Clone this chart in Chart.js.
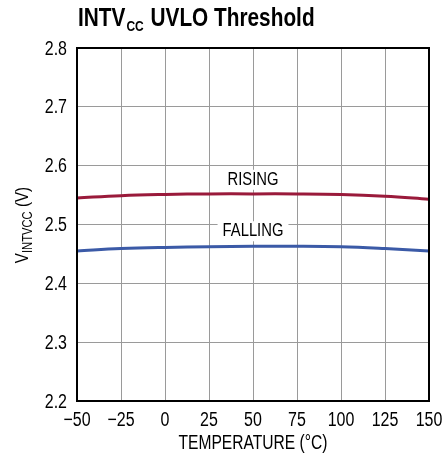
<!DOCTYPE html>
<html>
<head>
<meta charset="utf-8">
<script src="https://cdn.jsdelivr.net/npm/chart.js@4.4.1/dist/chart.umd.min.js"></script>
<style>
  html, body { margin: 0; padding: 0; background: #fff; }
  #wrap { width: 444px; height: 466px; position: relative; }
</style>
</head>
<body>
<div id="wrap"><canvas id="chart"></canvas></div>
<script>
/* ---------- DATA ---------- */
const temps = [-50, -25, 0, 25, 50, 75, 100, 125, 150];
const rising = [2.545, 2.549, 2.551, 2.552, 2.552, 2.552, 2.551, 2.548, 2.543];
const falling = [2.455, 2.459, 2.461, 2.462, 2.463, 2.463, 2.462, 2.459, 2.455];
const xTicks = [-50, -25, 0, 25, 50, 75, 100, 125, 150];
const yTicks = [2.2, 2.3, 2.4, 2.5, 2.6, 2.7, 2.8];

const FONT = "'Liberation Sans', Arial, sans-serif";
const SQ = 0.8; // horizontal squeeze to mimic a condensed face

/* ---------- HELPERS ---------- */
// draw condensed text; align = left | center | right
function txt(ctx, s, x, y, font, align, base) {
  ctx.save();
  ctx.font = font;
  ctx.textBaseline = base || "middle";
  ctx.textAlign = "left";
  const w = ctx.measureText(s).width * SQ;
  let x0 = x;
  if (align === "center") x0 = x - w / 2;
  if (align === "right") x0 = x - w;
  ctx.translate(x0, y);
  ctx.scale(SQ, 1);
  ctx.fillText(s, 0, 0);
  ctx.restore();
  return w;
}
function tw(ctx, s, font) {
  ctx.save(); ctx.font = font;
  const w = ctx.measureText(s).width * SQ;
  ctx.restore();
  return w;
}

/* ---------- TEXT / FRAME PLUGIN ---------- */
const decor = {
  id: "decor",
  afterDraw(chart) {
    const ctx = chart.ctx;
    const a = chart.chartArea;
    const xs = chart.scales.x, ys = chart.scales.y;
    ctx.save();
    ctx.fillStyle = "#000";

    // curve labels on white patches
    const lf = "18.5px " + FONT;
    const cx = xs.getPixelForValue(50);
    [["RISING", 2.576], ["FALLING", 2.4885]].forEach(([s, v]) => {
      const y = ys.getPixelForValue(v);
      const w = tw(ctx, s, lf);
      ctx.fillStyle = "#fff";
      ctx.fillRect(cx - w / 2 - 5, y - 10, w + 10, 20);
      ctx.fillStyle = "#000";
      txt(ctx, s, cx, y, lf, "center");
    });

    // frame
    ctx.strokeStyle = "#000";
    ctx.lineWidth = 2;
    ctx.strokeRect(a.left, a.top, a.right - a.left, a.bottom - a.top);

    // tick labels
    const tf = "20px " + FONT;
    ys.ticks.forEach(t => {
      txt(ctx, t.value.toFixed(1), a.left - 10, ys.getPixelForValue(t.value) + 1, tf, "right");
    });
    xs.ticks.forEach(t => {
      const s = t.value < 0 ? "\u2212" + Math.abs(t.value) : String(t.value);
      txt(ctx, s, xs.getPixelForValue(t.value), 420, tf, "center");
    });

    // title with subscript
    const tb = "bold 26px " + FONT, ts = "bold 15px " + FONT;
    let x = 78;
    x += txt(ctx, "INTV", x, 26, tb, "left", "alphabetic");
    x += txt(ctx, "CC", x + 1, 31, ts, "left", "alphabetic") + 2;
    txt(ctx, " UVLO Threshold", x, 26, tb, "left", "alphabetic");

    // x axis title
    txt(ctx, "TEMPERATURE (\u00B0C)", (a.left + a.right) / 2, 444, "19.5px " + FONT, "center");

    // y axis title with subscript, rotated
    ctx.translate(21, 225);
    ctx.rotate(-Math.PI / 2);
    const big = "19px " + FONT, small = "14px " + FONT;
    const w1 = tw(ctx, "V", big), w2 = tw(ctx, "INTVCC", small), w3 = tw(ctx, " (V)", big);
    let sx = -(w1 + w2 + w3) / 2;
    txt(ctx, "V", sx, 7, big, "left", "alphabetic"); sx += w1;
    txt(ctx, "INTVCC", sx, 11, small, "left", "alphabetic"); sx += w2;
    txt(ctx, " (V)", sx, 7, big, "left", "alphabetic");
    ctx.restore();
  }
};

/* ---------- CHART ---------- */
new Chart(document.getElementById("chart"), {
  type: "line",
  data: {
    datasets: [
      {
        label: "RISING",
        data: temps.map((t, i) => ({ x: t, y: rising[i] })),
        borderColor: "#9a1a3b",
        borderWidth: 3,
        pointRadius: 0,
        tension: 0.4,
        fill: false
      },
      {
        label: "FALLING",
        data: temps.map((t, i) => ({ x: t, y: falling[i] })),
        borderColor: "#3b5aa7",
        borderWidth: 3,
        pointRadius: 0,
        tension: 0.4,
        fill: false
      }
    ]
  },
  options: {
    responsive: true,
    maintainAspectRatio: false,
    animation: false,
    layout: { padding: { top: 48, right: 15, left: 0, bottom: 0 } },
    plugins: { legend: { display: false }, tooltip: { enabled: false } },
    scales: {
      x: {
        type: "linear",
        min: -50, max: 150,
        afterBuildTicks: s => { s.ticks = xTicks.map(v => ({ value: v })); },
        afterFit: s => { s.height = 65; },
        grid: { color: "#9a9a9a", lineWidth: 1, drawTicks: false },
        border: { display: false },
        ticks: { display: false }
      },
      y: {
        min: 2.2, max: 2.8,
        afterBuildTicks: s => { s.ticks = yTicks.map(v => ({ value: v })); },
        afterFit: s => { s.width = 77; },
        grid: { color: "#9a9a9a", lineWidth: 1, drawTicks: false },
        border: { display: false },
        ticks: { display: false }
      }
    }
  },
  plugins: [decor]
});
</script>
</body>
</html>
